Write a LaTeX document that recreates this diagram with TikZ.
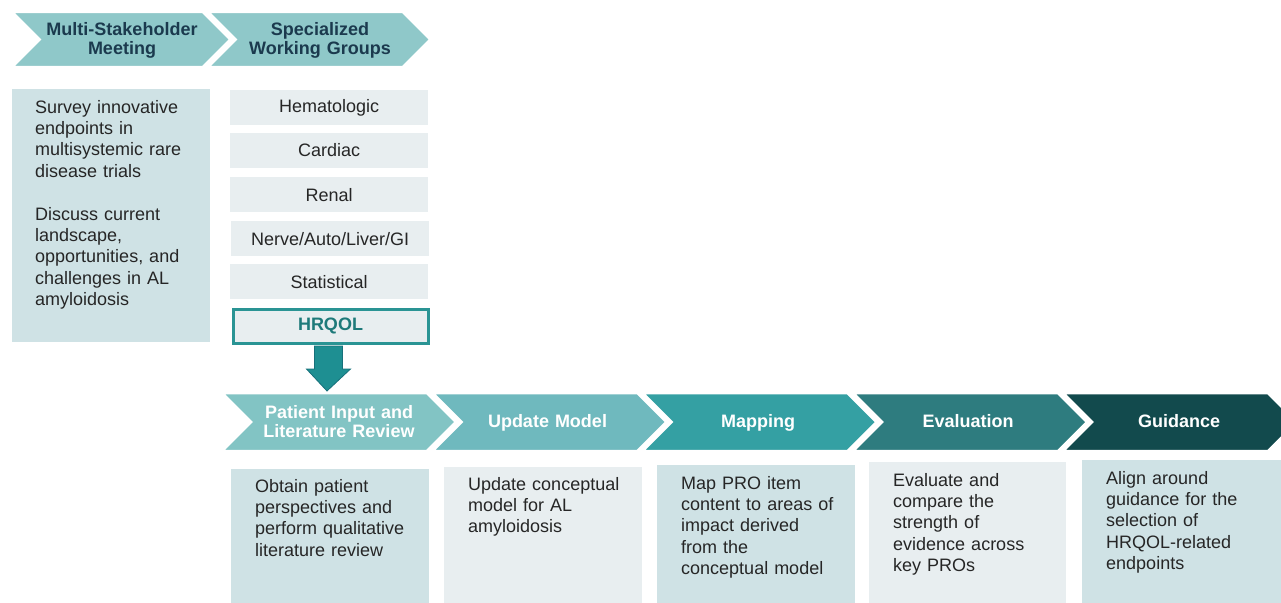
\documentclass[tikz,border=0pt]{standalone}
\usepackage{fontspec}
\setmainfont{Liberation Sans}
\definecolor{topchev}{HTML}{8FC8C9}
\definecolor{navy}{HTML}{1B3A4E}
\definecolor{paneldark}{HTML}{CFE2E5}
\definecolor{panellight}{HTML}{E8EEF0}
\definecolor{bodytxt}{HTML}{262626}
\definecolor{hqborder}{HTML}{2A9494}
\definecolor{hqtext}{HTML}{1E7A7A}
\definecolor{arrowfill}{HTML}{1E8F92}
\definecolor{arrowline}{HTML}{17707A}
\definecolor{chA}{HTML}{82C4C4}
\definecolor{chB}{HTML}{6FB9BE}
\definecolor{chC}{HTML}{34A0A3}
\definecolor{chD}{HTML}{2E7C7F}
\definecolor{chE}{HTML}{124A4D}
% #1 x, #2 ytop, #3 flat width, #4 half height, #5 colour
\newcommand\mychev[5]{\fill[#5, draw=white, line width=2.5pt, line join=miter] (#1,#2) -- ++(#3,0) -- ++(#4,#4) -- ++(-#4,#4) -- ++(-#3,0) -- ++(#4,-#4) -- cycle;}
\begin{document}
\begin{tikzpicture}[x=1pt,y=-1pt,
  bodyfont/.style={font=\fontsize{18}{21.4}\selectfont, text=bodytxt},
  chevlab/.style={font=\fontsize{18}{19}\selectfont\bfseries, text width=220pt, align=center, anchor=base, inner sep=0pt},
  bodytext/.style={bodyfont, text width=185pt, align=left, anchor=base west, inner sep=0pt},
  panel/.style={anchor=north west, inner sep=0pt},
  wg/.style={bodyfont, fill=panellight, anchor=north west, inner sep=0pt, minimum width=198pt, minimum height=35pt}
]
\useasboundingbox (0,0) rectangle (1281,602);
\clip (0,0) rectangle (1281,602);

% top chevrons
\mychev{12}{12}{191}{27.5}{topchev}
\mychev{208}{12}{195}{27.5}{topchev}
\node[chevlab, text=navy] (msm) at (122,36) {Multi-Stakeholder\\Meeting};
\node[chevlab, text=navy] (swg) at (320,36) {Specialized\\Working Groups};

% left panel
\node[panel, fill=paneldark, minimum width=198pt, minimum height=253pt] (leftbox) at (12,89) {};
\node[bodytext] (lefttxt) at (35,113) {Survey innovative\\endpoints in\\multisystemic rare\\disease trials\\[21.4pt]Discuss current\\landscape,\\opportunities, and\\challenges in AL\\amyloidosis};

% working groups
\node[wg] (hem) at (230,90) {Hematologic};
\node[wg] (car) at (230,132.5) {Cardiac};
\node[wg] (ren) at (230,177) {Renal};
\node[wg] (ner) at (231,221) {Nerve/Auto/Liver/GI};
\node[wg] (sta) at (230,264) {Statistical};
\node[wg, draw=hqborder, line width=3pt, minimum width=195pt, minimum height=34pt, font=\fontsize{18}{21.4}\selectfont\bfseries, text=hqtext] (hq) at (231.5,307.5) {HRQOL};

% bottom chevrons
\mychev{222}{393}{205}{29}{chA}
\mychev{432.5}{393}{205}{29}{chB}
\mychev{642.5}{393}{205}{29}{chC}
\mychev{853}{393}{205}{29}{chD}
\mychev{1063}{393}{205}{29}{chE}
\node[chevlab, text=white] (pat) at (339,418) {Patient Input and\\Literature Review};
\node[chevlab, text=white] (upd) at (547.5,427) {Update Model};
\node[chevlab, text=white] (map) at (758,427) {Mapping};
\node[chevlab, text=white] (eva) at (968,427) {Evaluation};
\node[chevlab, text=white] (gui) at (1179,427) {Guidance};

% arrow from HRQOL to first step
\coordinate (atop) at ([xshift=-2pt]hq.south);
\coordinate (atip) at (327,391);
\fill[arrowfill, draw=arrowline, line width=0.8pt] ([xshift=-14pt, yshift=-1.5pt]atop) -- ([xshift=-14pt]atop |- 0,369) -- ([xshift=-22pt]atop |- 0,369) -- (atip) -- ([xshift=22pt]atop |- 0,369) -- ([xshift=14pt]atop |- 0,369) -- ([xshift=14pt, yshift=-1.5pt]atop) -- cycle;

% bottom panels
\node[panel, fill=paneldark, minimum width=198pt, minimum height=140pt] (b1) at (231,469) {};
\node[panel, fill=panellight, minimum width=198pt, minimum height=140pt] (b2) at (444,467) {};
\node[panel, fill=paneldark, minimum width=198pt, minimum height=140pt] (b3) at (657,465) {};
\node[panel, fill=panellight, minimum width=197pt, minimum height=145pt] (b4) at (869,462) {};
\node[panel, fill=paneldark, minimum width=200pt, minimum height=145pt] (b5) at (1082,460) {};

\node[bodytext] (t1) at (255,492) {Obtain patient\\perspectives and\\perform qualitative\\literature review};
\node[bodytext] (t2) at (468,490) {Update conceptual\\model for AL\\amyloidosis};
\node[bodytext] (t3) at (681,489) {Map PRO item\\content to areas of\\impact derived\\from the\\conceptual model};
\node[bodytext] (t4) at (893,486) {Evaluate and\\compare the\\strength of\\evidence across\\key PROs};
\node[bodytext] (t5) at (1106,484) {Align around\\guidance for the\\selection of\\HRQOL-related\\endpoints};
\end{tikzpicture}
\end{document}
